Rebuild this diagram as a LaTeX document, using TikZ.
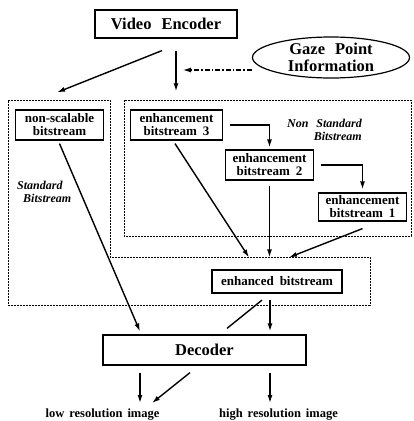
\documentclass[tikz,border=0pt]{standalone}
\usepackage{fontspec}
\setmainfont{Liberation Serif}
\usetikzlibrary{arrows.meta,shapes.geometric}
\newcommand\bigtxt{\fontsize{16.5}{17}\selectfont\bfseries\spaceskip=10pt\relax}
\newcommand\boxtxt{\fontsize{13}{13}\selectfont\bfseries\spaceskip=6pt\relax}
\newcommand\lbltxt{\fontsize{12.5}{13}\selectfont\bfseries\spaceskip=5pt\relax}
\newcommand\regtxt{\fontsize{12}{13}\selectfont\bfseries\itshape\spaceskip=8pt\relax}

\begin{document}
\begin{tikzpicture}[x=1pt,y=-1pt,
  big/.style={draw,line width=1.2pt,inner sep=0pt,font=\bigtxt},
  box/.style={draw,line width=1.2pt,inner sep=0pt,align=center,minimum width=88pt,minimum height=30pt,font=\boxtxt},
  lbl/.style={inner sep=0pt,font=\lbltxt},
  reglbl/.style={inner sep=0pt,font=\regtxt},
  arr/.style={-{Latex[length=8pt,width=5pt]},line width=1.4pt},
  region/.style={line width=0.8pt,dash pattern=on 2pt off 1pt}]
\useasboundingbox (0,0) rectangle (413,421);

\draw[region] (8,100) -- (110,100) -- (110,257) -- (370,257) -- (370,305) -- (8,305) -- cycle;
\draw[region] (124,100) rectangle (411,236);

\node[big,minimum width=142pt,minimum height=28pt] (enc) at (166,24) {Video Encoder};
\node[ellipse,draw,line width=1.2pt,inner sep=0pt,minimum width=157pt,minimum height=41pt] (gaze) at (331,57.5) {};
\node[inner sep=0pt,align=center,font=\bigtxt] (gazetxt) at (gaze.center) {Gaze Point\\Information};
\coordinate (gzin) at (183,70);

\node[box] (nonsc) at (59.5,125) {non-scalable\\bitstream};
\node[box,minimum width=92pt] (enh3) at (176.5,125) {enhancement\\bitstream 3};
\node[box] (enh2) at (269.5,165) {enhancement\\bitstream 2};
\node[box,minimum height=28pt] (enh1) at (362.5,207) {enhancement\\bitstream 1};
\node[box,minimum width=130pt,minimum height=23pt] (enhd) at (277,281.5) {enhanced bitstream};
\node[big,minimum width=203pt,minimum height=30pt] (dec) at (204.5,350) {Decoder};

\node[reglbl,align=right,anchor=north east] (nstd) at (362,119) {Non Standard\\Bitstream};
\node[reglbl,align=left,anchor=north west] (std) at (17,181) {Standard\\\hspace*{6pt}Bitstream};

\node[lbl,anchor=base] (low) at (102.5,417) {low resolution image};
\node[lbl,anchor=base] (high) at (278.5,417) {high resolution image};

\draw[arr] ([xshift=-4pt,yshift=-12pt]enc.south) -- ([xshift=-2.5pt,yshift=17pt]nonsc.north);
\draw[arr] ([xshift=10pt,yshift=-12pt]enc.south) -- ([xshift=-0.5pt,yshift=18pt]enh3.north);
\draw[arr,line width=1.1pt,dash pattern=on 5pt off 2pt on 1.5pt off 2pt] (gaze.west |- gzin) -- (gzin);

\draw[arr] ([xshift=7pt]enh3.east) -| ([yshift=2pt]enh2.north);
\draw[arr] ([xshift=7pt]enh2.east) -| ([yshift=3pt]enh1.north);

\draw[arr] ([xshift=-1.5pt,yshift=-3pt]enh3.south) -- ([xshift=-28pt,yshift=12pt]enhd.north);
\draw[arr] ([yshift=-5pt]enh2.south) -- ([xshift=-7.5pt,yshift=12pt]enhd.north);
\draw[arr] ([yshift=-7pt]enh1.south) -- ([xshift=12pt,yshift=12pt]enhd.north);

\draw[arr] ([yshift=-3pt]nonsc.south) -- ([xshift=-64.5pt,yshift=3pt]dec.north);
\draw[line width=1.4pt] ([xshift=-15pt,yshift=-6.5pt]enhd.south) -- ([xshift=22.5pt,yshift=6pt]dec.north);
\draw[arr] ([xshift=-7pt,yshift=-6.5pt]enhd.south) -- ([xshift=65.5pt,yshift=3pt]dec.north);

\draw[arr] ([xshift=-64.5pt,yshift=-7pt]dec.south) -- ([xshift=37.5pt,yshift=14pt]low.base);
\draw[arr] ([xshift=-14.5pt,yshift=-7pt]dec.south) -- ([xshift=49.5pt,yshift=14pt]low.base);
\draw[arr] ([xshift=65.5pt,yshift=-7pt]dec.south) -- ([xshift=-8.5pt,yshift=14pt]high.base);
\end{tikzpicture}
\end{document}
